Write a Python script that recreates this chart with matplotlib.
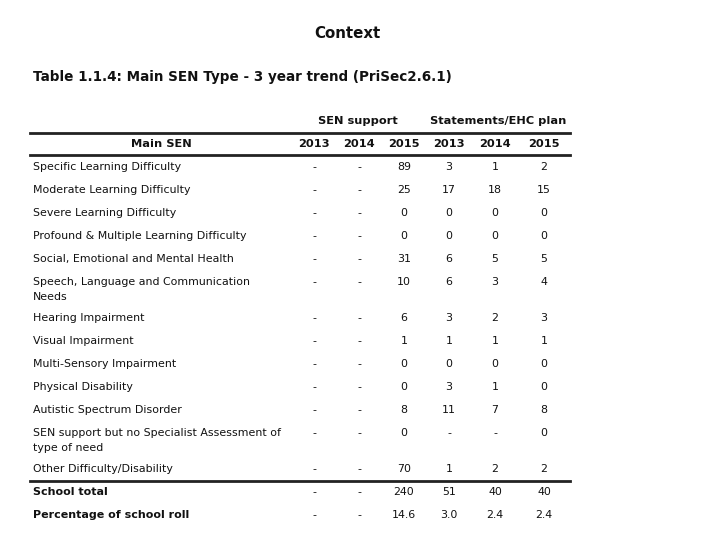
import matplotlib
matplotlib.use("Agg")
import matplotlib.pyplot as plt

# table data
categories = [
    "Specific Learning Difficulty",
    "Moderate Learning Difficulty",
    "Severe Learning Difficulty",
    "Profound & Multiple Learning Difficulty",
    "Social, Emotional and Mental Health",
    "Speech, Language and Communication\nNeeds",
    "Hearing Impairment",
    "Visual Impairment",
    "Multi-Sensory Impairment",
    "Physical Disability",
    "Autistic Spectrum Disorder",
    "SEN support but no Specialist Assessment of\ntype of need",
    "Other Difficulty/Disability",
]
years = ["2013", "2014", "2015", "2013", "2014", "2015"]
groups = ["SEN support", "Statements/EHC plan"]

sen_2013 = [None] * 13
sen_2014 = [None] * 13
sen_2015 = [89, 25, 0, 0, 31, 10, 6, 1, 0, 0, 8, 0, 70]
st_2013 = [3, 17, 0, 0, 6, 6, 3, 1, 0, 3, 11, None, 1]
st_2014 = [1, 18, 0, 0, 5, 3, 2, 1, 0, 1, 7, None, 2]
st_2015 = [2, 15, 0, 0, 5, 4, 3, 1, 0, 0, 8, 0, 2]

total_labels = ["School total", "Percentage of school roll"]
totals = [None, None, 240, 51, 40, 40]
percent = [None, None, 14.6, 3.0, 2.4, 2.4]

FONT = "DejaVu Sans"
fs = 7.9      # body text
fs_hd = 8.2   # bold header text
fs_tot = 8.0  # bold totals labels
ink = "#111111"

fig = plt.figure(figsize=(7.2, 5.4), dpi=100)
ax = fig.add_axes([0, 0, 1, 1])
ax.set_xlim(0, 720)
ax.set_ylim(540, 0)
ax.axis("off")

ax.text(347, 34, "Context", ha="center", va="center", fontsize=10.8,
        fontweight="bold", family=FONT, color=ink)
ax.text(33, 77, "Table 1.1.4: Main SEN Type - 3 year trend (PriSec2.6.1)",
        ha="left", va="center", fontsize=9.75, fontweight="bold",
        family=FONT, color=ink)

col_x = [314, 359, 404, 449, 495, 544]
ax.text(358, 121, groups[0], ha="center", va="center", fontsize=fs_hd,
        fontweight="bold", family=FONT, color=ink)
ax.text(498, 121, groups[1], ha="center", va="center", fontsize=fs_hd,
        fontweight="bold", family=FONT, color=ink)

ax.plot([30, 570], [132.5, 132.5], color="#222222", lw=2)
ax.text(161, 144, "Main SEN", ha="center", va="center", fontsize=fs_hd,
        fontweight="bold", family=FONT, color=ink)
for x, y in zip(col_x, years):
    ax.text(x, 144, y, ha="center", va="center", fontsize=fs_hd,
            fontweight="bold", family=FONT, color=ink)
ax.plot([30, 570], [155, 155], color="#222222", lw=2)


def fmt(v, dec=False):
    if v is None:
        return "-"
    return f"{v:.1f}" if dec else str(v)


row_y = [167, 190, 213, 236, 259, 282, 318, 341, 364, 387, 410, 433, 469]
cols = [sen_2013, sen_2014, sen_2015, st_2013, st_2014, st_2015]
for i, (name, y) in enumerate(zip(categories, row_y)):
    if "\n" in name:
        first, second = name.split("\n")
        ax.text(33, y, first, ha="left", va="center", fontsize=fs,
                family=FONT, color=ink)
        ax.text(33, y + 15, second, ha="left", va="center", fontsize=fs,
                family=FONT, color=ink)
    else:
        ax.text(33, y, name, ha="left", va="center", fontsize=fs,
                family=FONT, color=ink)
    for x, col in zip(col_x, cols):
        ax.text(x, y, fmt(col[i]), ha="center", va="center", fontsize=fs,
                family=FONT, color=ink)

ax.plot([30, 570], [481, 481], color="#222222", lw=2)

for lab, y, vals, dec in zip(total_labels, [492, 515], [totals, percent],
                             [False, True]):
    ax.text(33, y, lab, ha="left", va="center", fontsize=fs_tot,
            fontweight="bold", family=FONT, color=ink)
    for x, v in zip(col_x, vals):
        ax.text(x, y, fmt(v, dec), ha="center", va="center", fontsize=fs,
                family=FONT, color=ink)

fig.savefig("out.png", dpi=100)
